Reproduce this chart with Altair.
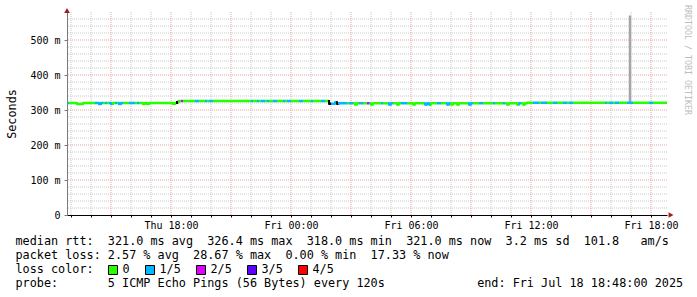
import altair as alt
import pandas as pd

MONO = "DejaVu Sans Mono"
NB = "\u00a0"

# ---------------- data ----------------
START = pd.Timestamp("2025-07-17 12:48:00")   # left edge of the plot
END = pd.Timestamp("2025-07-18 18:48:00")     # right edge (end time)
STEP_MIN = 6                                   # one sample = 6 minutes

# packet loss per sample: 0 = 0, 1 = 1/5, 2 = 2/5, 3 = 3/5, 4 = 4/5, 9 = black
loss_codes = (
    "100000000000001111010110101100"
    "011101000000000000000000090200"
    "000011000101100000000000000000"
    "001001011010011000101100001100"
    "001000011009111911110110001100"
    "210000010001100001110000000001"
    "110001100011000000000110001100"
    "000100001000000010000001110111"
    "000110001101100000000000000001"
    "011011000011100000000110000000"
)

# median rtt per sample, ms
rtt_ms = [
    320, 320, 320, 320, 320, 317, 317, 317, 320, 320, 320, 320, 320, 320, 320,
    320, 317, 320, 320, 320, 320, 320, 317, 320, 320, 320, 317, 320, 320, 320,
    320, 320, 320, 320, 320, 320, 320, 320, 317, 320, 317, 320, 320, 320, 320,
    320, 320, 320, 320, 320, 320, 320, 320, 317, 320, 323, 326, 326, 326, 326,
    326, 326, 326, 326, 326, 326, 326, 326, 326, 326, 326, 326, 326, 326, 326,
    326, 326, 326, 326, 326, 326, 326, 326, 326, 326, 326, 326, 326, 326, 326,
    326, 326, 326, 326, 326, 326, 326, 326, 326, 326, 326, 326, 326, 326, 326,
    326, 326, 326, 326, 326, 326, 326, 326, 326, 326, 326, 326, 326, 326, 326,
    326, 326, 326, 326, 326, 326, 326, 326, 326, 326, 326, 318, 318, 318, 322,
    318, 319, 319, 319, 319, 319, 319, 319, 319, 316, 319, 319, 319, 319, 319,
    319, 319, 316, 319, 319, 319, 319, 319, 319, 319, 319, 316, 319, 319, 319,
    316, 319, 319, 319, 319, 319, 319, 319, 316, 319, 319, 319, 319, 319, 316,
    319, 316, 319, 319, 319, 319, 319, 319, 319, 319, 316, 319, 316, 319, 319,
    316, 319, 319, 319, 319, 319, 316, 319, 319, 319, 319, 319, 319, 319, 319,
    319, 319, 319, 319, 319, 319, 319, 319, 319, 319, 316, 319, 319, 319, 319,
    316, 319, 319, 316, 319, 321, 321, 321, 321, 321, 321, 321, 321, 321, 321,
    321, 321, 321, 321, 321, 321, 321, 321, 321, 321, 321, 321, 321, 321, 321,
    321, 321, 321, 321, 321, 321, 321, 321, 321, 321, 321, 321, 321, 321, 321,
    321, 321, 321, 321, 321, 321, 321, 321, 321, 321, 321, 321, 321, 321, 321,
    321, 321, 321, 321, 321, 321, 321, 321, 321, 321, 321, 321, 321, 321, 321,
]

# single smoke spike (one ping much slower)
spike_time = ["2025-07-18 16:57:00"]
spike_low = [321]
spike_high = [570]

loss_names = ["0", "1/5", "2/5", "3/5", "4/5"]
loss_keys = ["0", "1", "2", "3", "4", "9"]
loss_colors = ["#26ff00", "#00b8ff", "#dd00ff", "#5e00ff", "#ff0000", "#000000"]

legend_lines = [
    "median rtt:  321.0 ms avg  326.4 ms max  318.0 ms min  321.0 ms now  3.2 ms sd  101.8   am/s",
    "packet loss: 2.57 % avg  28.67 % max  0.00 % min  17.33 % now",
    "loss color:",
    "probe:       5 ICMP Echo Pings (56 Bytes) every 120s             end: Fri Jul 18 18:48:00 2025",
]
watermark = "RRDTOOL / TOBI OETIKER"
y_title = "Seconds"

assert len(loss_codes) == len(rtt_ms)

# ---------------- tables ----------------
n = len(rtt_ms)
t0 = [START + pd.Timedelta(minutes=STEP_MIN * i) for i in range(n)]
t1 = [t + pd.Timedelta(minutes=STEP_MIN) for t in t0]
seg = pd.DataFrame({"t0": t0, "t1": t1, "rtt": rtt_ms, "loss": list(loss_codes)})

conn_rows = []
for i in range(1, n):
    if rtt_ms[i] != rtt_ms[i - 1]:
        conn_rows.append({"t": t0[i], "a": rtt_ms[i - 1], "b": rtt_ms[i], "loss": loss_codes[i]})
conn = pd.DataFrame(conn_rows)

spike = pd.DataFrame({"t": pd.to_datetime(spike_time), "lo": spike_low, "hi": spike_high})

hours = [START.ceil("h") + pd.Timedelta(hours=k) for k in range(30)]
v_minor = pd.DataFrame({"t": [h for h in hours if h.hour % 3 != 0]})
v_major = pd.DataFrame({"t": [h for h in hours if h.hour % 3 == 0]})
hvals = list(range(20, 580, 20))
h_minor = pd.DataFrame({"v": [v for v in hvals if v % 100 != 0]})
h_major = pd.DataFrame({"v": [v for v in hvals if v % 100 == 0]})

# ---------------- scales / axes ----------------
x_scale = alt.Scale(
    domain=[alt.DateTime(year=2025, month=7, date=17, hours=12, minutes=48),
            alt.DateTime(year=2025, month=7, date=18, hours=18, minutes=48)],
    nice=False,
)
y_scale = alt.Scale(domain=[0, 580], nice=False)
color_scale = alt.Scale(domain=loss_keys, range=loss_colors)

hour_vals = [alt.DateTime(year=h.year, month=h.month, date=h.day, hours=h.hour) for h in hours]

x_axis = alt.Axis(
    values=hour_vals,
    labelExpr="hours(datum.value) % 6 == 0 ? timeFormat(datum.value, '%a %H:%M') : ''",
    labelFont=MONO, labelFontSize=10, labelColor="black",
    tickSize=2, tickColor="black", domainColor="black", domainWidth=1,
    labelPadding=3, grid=False, labelOverlap=False, labelFlush=False, title=None,
)
y_axis = alt.Axis(
    values=[0, 100, 200, 300, 400, 500],
    labelExpr=f"datum.value == 0 ? '0{NB}{NB}' : datum.value + '{NB}m'",
    labelFont=MONO, labelFontSize=10, labelColor="black",
    tickSize=3, tickColor="#7a7a7a", domainColor="#7a7a7a",
    labelPadding=4, grid=False,
    title=y_title, titleFont=MONO, titleFontSize=11.8, titleFontWeight="normal",
    titleColor="black", titleX=-56, titleY=101.5, titleAngle=270,
    titleAlign="center", titleBaseline="middle",
)

X = lambda f: alt.X(f, scale=x_scale, axis=x_axis)
Y = lambda f: alt.Y(f, scale=y_scale, axis=y_axis)

# ---------------- layers ----------------
minor_c = "#c8c8c8"
major_c = "#e9a3a3"

def vg(df, color):
    return alt.Chart(df).mark_rule(color=color, strokeWidth=1, strokeDash=[1, 1]).encode(x=X("t:T"))

def hg(df, color):
    return alt.Chart(df).mark_rule(color=color, strokeWidth=1, strokeDash=[1, 1]).encode(y=Y("v:Q"))

spike_layer = alt.Chart(spike).mark_rule(color="#a6a6a6", strokeWidth=2.5).encode(
    x=X("t:T"), y=Y("lo:Q"), y2="hi:Q",
)

seg_layer = alt.Chart(seg).mark_rule(strokeWidth=2.5).encode(
    x=X("t0:T"), x2="t1:T", y=Y("rtt:Q"),
    color=alt.Color("loss:N", scale=color_scale, legend=None),
)

conn_layer = alt.Chart(conn).mark_rule(strokeWidth=2, strokeCap="square").encode(
    x=X("t:T"), y=Y("a:Q"), y2="b:Q",
    color=alt.Color("loss:N", scale=color_scale, legend=None),
)

one = pd.DataFrame({"k": [0]})
arrow_up = alt.Chart(one).mark_point(
    shape="triangle-up", filled=True, size=32, color="#a01c1c", opacity=1
).encode(x=alt.value(0), y=alt.value(-1.5))
arrow_right = alt.Chart(one).mark_point(
    shape="triangle-right", filled=True, size=32, color="#a01c1c", opacity=1
).encode(x=alt.value(604), y=alt.value(203))

wm = alt.Chart(pd.DataFrame({"s": [watermark]})).mark_text(
    angle=90, align="left", baseline="middle", font=MONO, fontSize=8.3, color="#bdbdbd"
).encode(x=alt.value(620), y=alt.value(-7), text="s:N")

text_layers = []
for k, line in enumerate(legend_lines):
    text_layers.append(
        alt.Chart(pd.DataFrame({"s": [line.replace(" ", NB)]})).mark_text(
            align="left", baseline="alphabetic", font=MONO, fontSize=11.8, color="black"
        ).encode(x=alt.value(-51.5), y=alt.value(233 + 14 * k), text="s:N")
    )

sw_left = [41, 78, 129, 180, 231]
for k, name in enumerate(loss_names):
    text_layers.append(
        alt.Chart(one).mark_rect(fill=loss_colors[k], stroke="black", strokeWidth=1).encode(
            x=alt.value(sw_left[k] + 0.5), x2=alt.value(sw_left[k] + 9.5),
            y=alt.value(253.5), y2=alt.value(262.5),
        )
    )
    text_layers.append(
        alt.Chart(pd.DataFrame({"s": [name]})).mark_text(
            align="left", baseline="alphabetic", font=MONO, fontSize=11.8, color="black"
        ).encode(x=alt.value(sw_left[k] + 14.5), y=alt.value(261), text="s:N")
    )

chart = alt.layer(
    vg(v_minor, minor_c), hg(h_minor, minor_c), vg(v_major, major_c), hg(h_major, major_c),
    spike_layer, seg_layer, conn_layer, arrow_up, arrow_right, wm, *text_layers,
).properties(
    width=600, height=203,
    autosize=alt.AutoSizeParams(type="none"),
    padding={"left": 67, "top": 12, "right": 30, "bottom": 82},
    background="white",
).configure_view(stroke=None)

chart.save("out.html", embed_options={"renderer": "svg", "actions": False})
